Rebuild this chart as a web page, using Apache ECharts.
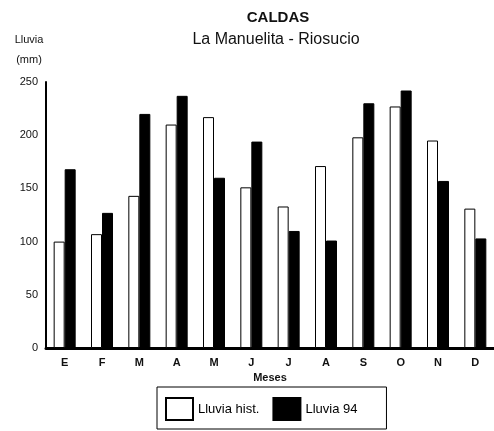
<!DOCTYPE html>
<html>
<head>
<meta charset="utf-8">
<script src="https://cdn.jsdelivr.net/npm/echarts@6/dist/echarts.min.js"></script>
<style>
  html, body { margin: 0; padding: 0; background: #fff; }
  #chart { width: 494px; height: 431px; }
</style>
</head>
<body>
<div id="chart"></div>
<script>
// meses y lluvias (mm)
const months = ["E", "F", "M", "A", "M", "J", "J", "A", "S", "O", "N", "D"];
const lluviaHist = [100, 107, 143, 210, 217, 151, 133, 171, 198, 227, 195, 131];
const lluvia94 = [168, 127, 220, 237, 160, 194, 110, 101, 230, 242, 157, 103];
const yTicks = [0, 50, 100, 150, 200, 250];

const font = "Liberation Sans, Arial, sans-serif";
const chart = echarts.init(document.getElementById("chart"));

chart.setOption({
  animation: false,
  textStyle: { fontFamily: font, color: "#000" },
  title: [
    {
      text: "CALDAS",
      left: 273, top: 5, textAlign: "center",
      textStyle: { fontSize: 15, fontWeight: "bold", color: "#111" }
    },
    {
      text: "La Manuelita - Riosucio",
      left: 271, top: 27, textAlign: "center",
      textStyle: { fontSize: 16, fontWeight: "normal", color: "#111" }
    },
    {
      text: "Lluvia\n(mm)",
      left: 24, top: 25, textAlign: "center",
      textStyle: { fontSize: 11, fontWeight: "normal", lineHeight: 20, color: "#111" }
    }
  ],
  grid: { left: 46, right: -2, top: 82, bottom: 83 },
  legend: {
    left: 157, top: 387,
    icon: "rect",
    itemWidth: 27, itemHeight: 22, itemGap: 13,
    padding: [10, 29, 8, 8],
    borderColor: "#000", borderWidth: 1,
    textStyle: { fontSize: 13, color: "#000" },
    data: ["Lluvia hist.", "Lluvia 94"]
  },
  xAxis: {
    type: "category",
    data: months,
    name: "Meses",
    nameLocation: "middle",
    nameGap: 24,
    nameTextStyle: { fontSize: 11, fontWeight: "bold", color: "#111" },
    axisLine: { lineStyle: { color: "#000", width: 3 } },
    axisTick: { show: false },
    axisLabel: { fontSize: 11, fontWeight: "bold", color: "#111", margin: 9 }
  },
  yAxis: {
    type: "value",
    min: yTicks[0], max: yTicks[yTicks.length - 1], interval: 50,
    splitLine: { show: false },
    axisLine: { show: true, lineStyle: { color: "#000", width: 2 } },
    axisTick: { show: false },
    axisLabel: { fontSize: 11, color: "#111", margin: 8 }
  },
  series: [
    {
      name: "Lluvia hist.",
      type: "bar",
      data: lluviaHist,
      barWidth: 11,
      barGap: "0%",
      itemStyle: { color: "#fff", borderColor: "#000", borderWidth: 1 }
    },
    {
      name: "Lluvia 94",
      type: "bar",
      data: lluvia94,
      barWidth: 11,
      itemStyle: { color: "#000", borderColor: "#000", borderWidth: 1 }
    }
  ]
});
</script>
</body>
</html>
